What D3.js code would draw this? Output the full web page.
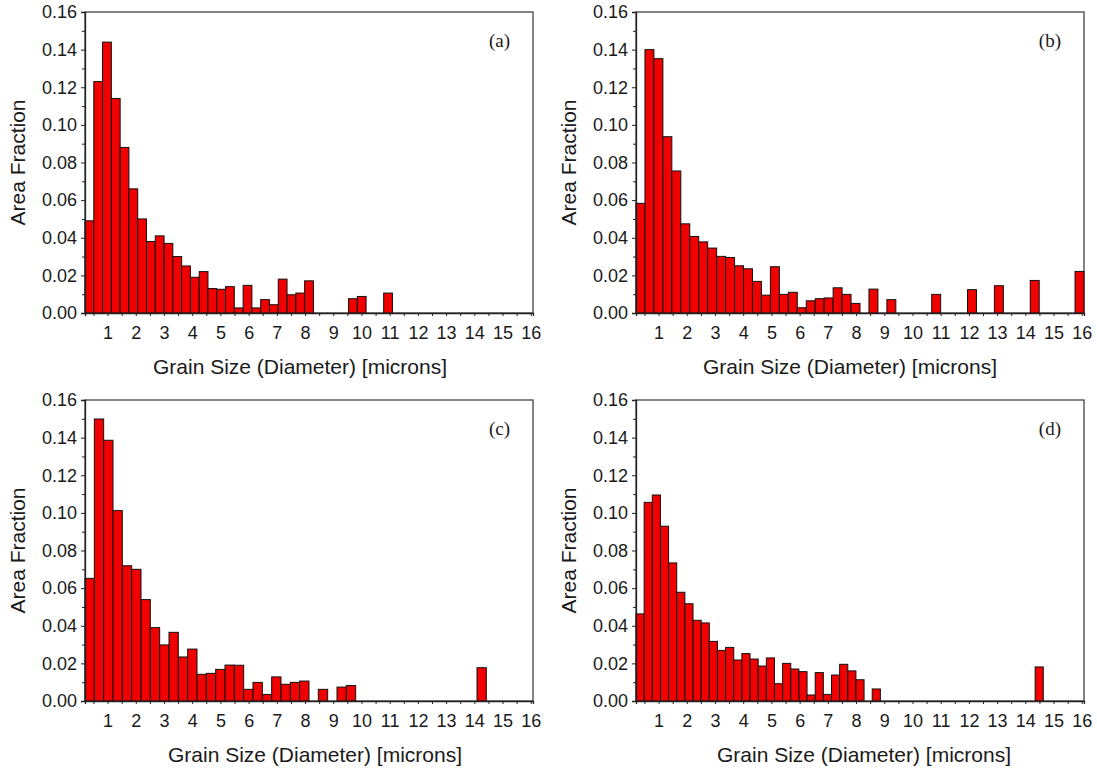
<!DOCTYPE html>
<html>
<head>
<meta charset="utf-8">
<script src="https://cdn.jsdelivr.net/npm/d3@7"></script>
<style>
  body { margin: 0; background: #fff; }
  svg { display: block; }
</style>
</head>
<body>
<svg id="chart"></svg>
<script>
// Area fraction per size bin
const valuesA = [0.049, 0.123, 0.144, 0.114, 0.088, 0.066, 0.050, 0.038, 0.041, 0.037,
  0.030, 0.025, 0.019, 0.022, 0.013, 0.0126, 0.014, 0.0027, 0.0147, 0.0027,
  0.0071, 0.0044, 0.018, 0.0097, 0.0106, 0.0171, 0, 0, 0, 0,
  0.0076, 0.0088, 0, 0, 0.0106, 0, 0, 0, 0, 0,
  0, 0, 0, 0, 0, 0, 0, 0, 0, 0, 0];
const valuesB = [0.0583, 0.140, 0.1352, 0.0937, 0.0755, 0.0474, 0.0407, 0.0378, 0.0345, 0.0301,
  0.0295, 0.0251, 0.0235, 0.0168, 0.0095, 0.0246, 0.0099, 0.011, 0.0028, 0.0065,
  0.0076, 0.008, 0.0134, 0.0099, 0.0051, 0, 0.0127, 0, 0.0071, 0,
  0, 0, 0, 0.0099, 0, 0, 0, 0.0124, 0, 0,
  0.0145, 0, 0, 0, 0.0173, 0, 0, 0, 0, 0.0221];
const valuesC = [0.0652, 0.1499, 0.1386, 0.1012, 0.0719, 0.070, 0.0539, 0.039, 0.0298, 0.0365,
  0.0234, 0.0276, 0.0142, 0.0147, 0.0168, 0.0191, 0.019, 0.0062, 0.0099, 0.0035,
  0.0128, 0.0089, 0.0099, 0.0106, 0, 0.0062, 0, 0.0074, 0.0082, 0,
  0, 0, 0, 0, 0, 0, 0, 0, 0, 0,
  0, 0, 0.0177, 0, 0, 0, 0, 0];
const valuesD = [0.0463, 0.1056, 0.1095, 0.0929, 0.0734, 0.0578, 0.0517, 0.0429, 0.0415, 0.0317,
  0.0269, 0.0285, 0.0218, 0.0252, 0.0223, 0.0186, 0.0229, 0.0092, 0.020, 0.017,
  0.0156, 0.0032, 0.0151, 0.0035, 0.0138, 0.0195, 0.016, 0.0113, 0, 0.0064,
  0, 0, 0, 0, 0, 0, 0, 0, 0, 0,
  0, 0, 0, 0, 0, 0, 0, 0, 0, 0.0181,
  0, 0, 0, 0, 0];

const panelLetters = ['(a)', '(b)', '(c)', '(d)'];
const yMajorTicks = [0, 0.02, 0.04, 0.06, 0.08, 0.10, 0.12, 0.14, 0.16];
const yMinorTicks = [0.01, 0.03, 0.05, 0.07, 0.09, 0.11, 0.13, 0.15];
const xTickLabels = [1, 2, 3, 4, 5, 6, 7, 8, 9, 10, 11, 12, 13, 14, 15, 16];
const xMinorTicks = [0.5, 1.5, 2.5, 3.5, 4.5, 5.5, 6.5, 7.5, 8.5, 9.5, 10.5, 11.5, 12.5, 13.5, 14.5, 15.5];
const xTitle = 'Grain Size (Diameter) [microns]';
const yTitle = 'Area Fraction';

const width = 1097, height = 772;
const plotW = 448, plotH = 301;
const panels = [
  { values: valuesA, left: 85, top: 12, titleShift: -9 },
  { values: valuesB, left: 636, top: 12, titleShift: -10 },
  { values: valuesC, left: 85, top: 400, titleShift: 6 },
  { values: valuesD, left: 636, top: 400, titleShift: 4 }
];

const sans = 'Arial, "Liberation Sans", Helvetica, sans-serif';
const serif = '"Times New Roman", "Liberation Serif", serif';

const svg = d3.select('#chart')
  .attr('width', width)
  .attr('height', height);

svg.append('rect').attr('width', width).attr('height', height).attr('fill', '#fff');

const y = d3.scaleLinear().domain([0, 0.16]).range([plotH, 0]);
const xMicron = d3.scaleLinear().domain([0.2, 16.08]).range([0, plotW]);

panels.forEach((p, idx) => {
  const g = svg.append('g').attr('transform', `translate(${p.left},${p.top})`);
  const xBin = d3.scaleBand().domain(d3.range(p.values.length)).range([0, plotW]).padding(0);

  // frame
  g.append('rect')
    .attr('width', plotW).attr('height', plotH)
    .attr('fill', 'none').attr('stroke', '#444').attr('stroke-width', 1.3);

  // bars
  g.append('g').selectAll('rect.bar')
    .data(p.values.map((v, i) => ({ i, v })).filter(d => d.v > 0))
    .enter()
    .append('rect')
    .attr('class', 'bar')
    .attr('x', d => xBin(d.i))
    .attr('y', d => y(d.v))
    .attr('width', xBin.bandwidth())
    .attr('height', d => plotH - y(d.v))
    .attr('fill', '#f00000')
    .attr('stroke', '#111')
    .attr('stroke-width', 1);

  // y axis, major + minor
  const yAxis = g.append('g')
    .call(d3.axisLeft(y).tickValues(yMajorTicks).tickSize(4).tickPadding(4).tickFormat(d3.format('.2f')));
  g.append('g')
    .call(d3.axisLeft(y).tickValues(yMinorTicks).tickSize(3).tickFormat(''))
    .select('.domain').remove();
  yAxis.selectAll('text')
    .style('font-family', sans).style('font-size', '18px').attr('fill', '#1a1a1a');

  // x axis: integer labels, ticks every half micron
  const xAxis = g.append('g')
    .attr('transform', `translate(0,${plotH})`)
    .call(d3.axisBottom(xMicron).tickValues(xTickLabels).tickSize(3).tickPadding(10).tickFormat(d3.format('d')));
  g.append('g')
    .attr('transform', `translate(0,${plotH})`)
    .call(d3.axisBottom(xMicron).tickValues(xMinorTicks).tickSize(3).tickFormat(''))
    .select('.domain').remove();
  xAxis.selectAll('text')
    .style('font-family', sans).style('font-size', '18px').attr('fill', '#1a1a1a');

  g.selectAll('.domain').attr('stroke', '#222').attr('stroke-width', 1.3);
  g.selectAll('.tick line').attr('stroke', '#222');

  // titles
  g.append('text')
    .attr('x', plotW / 2 + p.titleShift)
    .attr('y', plotH + 61)
    .attr('text-anchor', 'middle')
    .style('font-family', sans).style('font-size', '21px').attr('fill', '#1a1a1a')
    .text(xTitle);

  g.append('text')
    .attr('transform', `translate(-60,${plotH / 2}) rotate(-90)`)
    .attr('text-anchor', 'middle')
    .style('font-family', sans).style('font-size', '21px').attr('fill', '#1a1a1a')
    .text(yTitle);

  g.append('text')
    .attr('x', plotW - 23)
    .attr('y', 34.5)
    .attr('text-anchor', 'end')
    .style('font-family', serif).style('font-size', '19px').attr('fill', '#1a1a1a')
    .text(panelLetters[idx]);
});
</script>
</body>
</html>
